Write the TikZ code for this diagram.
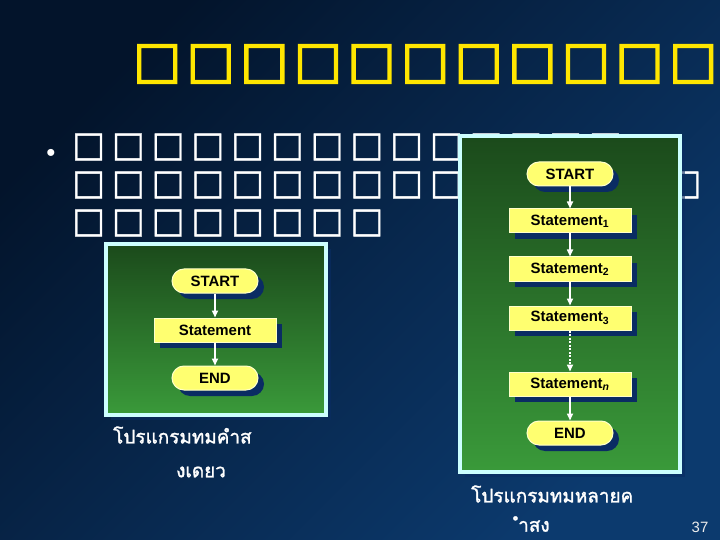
\documentclass[tikz,border=0pt]{standalone}
\usepackage{fontspec}
\setmainfont{Liberation Sans}
\newfontfamily\thaifont[Script=Thai,FakeBold=1.5]{Loma}
\newfontfamily\tofutitle{DejaVu Sans}[LetterSpace=11,FakeBold=3]
\newfontfamily\tofubody{DejaVu Sans}[LetterSpace=19.5,FakeBold=1]
\usepackage{tikz}
\usetikzlibrary{arrows.meta,shadows}
\usepackage{xcolor}

\definecolor{bgdark}{HTML}{03142B}
\definecolor{bgmid}{HTML}{0A3262}
\definecolor{bglight}{HTML}{0C3A6E}
\definecolor{titleyellow}{HTML}{FFE600}
\definecolor{panelrim}{HTML}{CCFFFF}
\definecolor{greentop}{HTML}{1B4A1B}
\definecolor{greenbot}{HTML}{3A9A3A}
\definecolor{boxfill}{HTML}{FFFF70}
\definecolor{boxrim}{HTML}{FFFFC8}
\definecolor{navyshadow}{HTML}{0A2C63}

\begin{document}
\begin{tikzpicture}[
  x=1bp,y=-1bp,
  titletext/.style={inner sep=0pt,text=titleyellow,font=\tofutitle\fontsize{51}{51}\selectfont},
  bodytext/.style={inner sep=0pt,text=white,font=\tofubody\fontsize{35}{35}\selectfont},
  panel/.style={draw=panelrim,line width=3.5bp,top color=greentop,bottom color=greenbot,
    drop shadow={shadow xshift=5bp,shadow yshift=-5bp,fill=navyshadow,opacity=.6}},
  flowbox/.style={draw=boxrim,line width=1bp,fill=boxfill,inner sep=0pt,minimum height=24bp,
    font=\fontsize{15}{18}\selectfont\bfseries,
    drop shadow={shadow xshift=6bp,shadow yshift=-6bp,fill=navyshadow,opacity=1}},
  capsule/.style={flowbox,rounded corners=12bp,minimum width=86bp},
  stmt/.style={flowbox,minimum width=122bp},
  flow/.style={-{Triangle[length=7bp,width=6bp]},white,line width=1.6bp},
  caption/.style={inner sep=0pt,anchor=west,text=white,font=\thaifont\fontsize{19}{22}\selectfont}
]
\useasboundingbox (0,0) rectangle (720,540);
\shade[top color=bgdark,middle color=bgmid,bottom color=bglight,shading angle=45] (0,0) rectangle (720,540);

% slide text
\node[titletext,anchor=west] (title) at (133,64) {□□□□□□□□□□□};
\node[inner sep=0pt,text=white,font=\fontsize{26}{26}\selectfont] (dot) at (51,155) {•};
\node[bodytext,anchor=west] (lineA) at (72,147) {□□□□□□□□□□□□□□};
\node[bodytext,anchor=west] (lineB) at (72,185) {□□□□□□□□□□□□□□□□};
\node[bodytext,anchor=west] (lineC) at (72,223) {□□□□□□□□};

% panels
\draw[panel] (106,244) rectangle (326,415);
\draw[panel] (460,136) rectangle (680,472);

% one statement
\node[capsule] (startA) at (215,281) {START};
\node[stmt] (stmtA) at (215,330) {Statement};
\node[capsule] (endA) at (215,378) {END};
\draw[flow] (startA) -- (stmtA);
\draw[flow] (stmtA) -- (endA);

% many statements
\node[capsule] (startB) at (570,174) {START};
\node[stmt] (stmtOne) at (570,221) {Statement\textsubscript{1}};
\node[stmt] (stmtTwo) at (570,269) {Statement\textsubscript{2}};
\node[stmt] (stmtThree) at (570,318) {Statement\textsubscript{3}};
\node[stmt] (stmtN) at (570,384) {Statement\textsubscript{\textit{n}}};
\node[capsule] (endB) at (570,433) {END};
\draw[flow] (startB) -- (stmtOne);
\draw[flow] (stmtOne) -- (stmtTwo);
\draw[flow] (stmtTwo) -- (stmtThree);
\draw[flow,dash pattern=on 2bp off 1.5bp] (stmtThree) -- (stmtN);
\draw[flow] (stmtN) -- (endB);

% captions
\node[caption] (capOneA) at (113,435) {โปรแกรมทมคำส};
\node[caption] (capOneB) at (176,472) {งเดยว};
\node[caption] (capManyA) at (471,494) {โปรแกรมทมหลายค};
\node[caption] (capManyB) at (518,524) {ำสง};
\node[inner sep=0pt,text=white!85!gray,font=\fontsize{15}{15}\selectfont] (pagenum) at (700,527) {37};
\end{tikzpicture}
\end{document}
